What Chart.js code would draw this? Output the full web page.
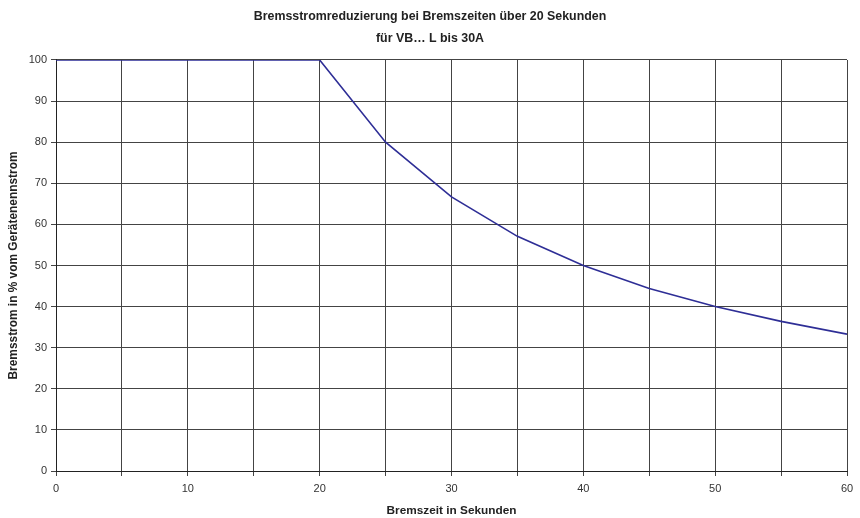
<!DOCTYPE html>
<html>
<head>
<meta charset="utf-8">
<script src="https://cdn.jsdelivr.net/npm/chart.js@4"></script>
<style>
html,body{margin:0;padding:0;background:#fff;}
#wrap{width:860px;height:518px;}
</style>
</head>
<body>
<div id="wrap"><canvas id="c" width="860" height="518"></canvas></div>
<script>
const titleLines = ['Bremsstromreduzierung bei Bremszeiten über 20 Sekunden', 'für VB… L bis 30A'];
const xTitle = 'Bremszeit in Sekunden';
const yTitle = 'Bremsstrom in % vom Gerätenennstrom';
const seconds = [0, 5, 10, 15, 20, 25, 30, 35, 40, 45, 50, 55, 60];
const percent = [100, 100, 100, 100, 100, 80, 66.7, 57.1, 50, 44.4, 40, 36.4, 33.3];
const xLabelEvery = 10;

const FONT = "'Liberation Sans', Arial, sans-serif";
new Chart(document.getElementById('c'), {
  type: 'line',
  data: {
    datasets: [{
      data: seconds.map((s, i) => ({x: s, y: percent[i]})),
      borderColor: '#2e2e96',
      borderWidth: 1.6,
      pointRadius: 0,
      tension: 0,
      fill: false
    }]
  },
  options: {
    responsive: false,
    animation: false,
    layout: {padding: {left: 0, right: 0, top: 0, bottom: 0}},
    plugins: {
      legend: {display: false},
      tooltip: {enabled: false},
      title: {
        display: true,
        text: titleLines,
        color: '#222',
        font: {family: FONT, size: 12.4, weight: 'bold', lineHeight: 1.774},
        padding: {top: 6, bottom: 10}
      }
    },
    scales: {
      x: {
        type: 'linear', min: 0, max: 60,
        ticks: {
          stepSize: 5, autoSkip: false, maxRotation: 0,
          color: '#333', font: {family: FONT, size: 11}, padding: 6,
          callback: v => (v % xLabelEvery === 0 ? String(v) : '')
        },
        grid: {color: '#444', lineWidth: 1, tickLength: 5, drawTicks: true},
        border: {color: '#222', width: 1},
        title: {display: true, text: xTitle, color: '#222', font: {family: FONT, size: 11.8, weight: 'bold'}, padding: {top: 2, bottom: 0}},
        afterFit: s => { s.height = 47; s.paddingRight = 13; }
      },
      y: {
        min: 0, max: 100,
        ticks: {stepSize: 10, color: '#333', font: {family: FONT, size: 11}, padding: 4},
        grid: {color: '#444', lineWidth: 1, tickLength: 5, drawTicks: true},
        border: {color: '#222', width: 1},
        title: {display: true, text: yTitle, color: '#222', font: {family: FONT, size: 11.9, weight: 'bold'}, padding: {top: 7, bottom: 4}},
        afterFit: s => { s.width = 56; }
      }
    }
  }
});
</script>
</body>
</html>
